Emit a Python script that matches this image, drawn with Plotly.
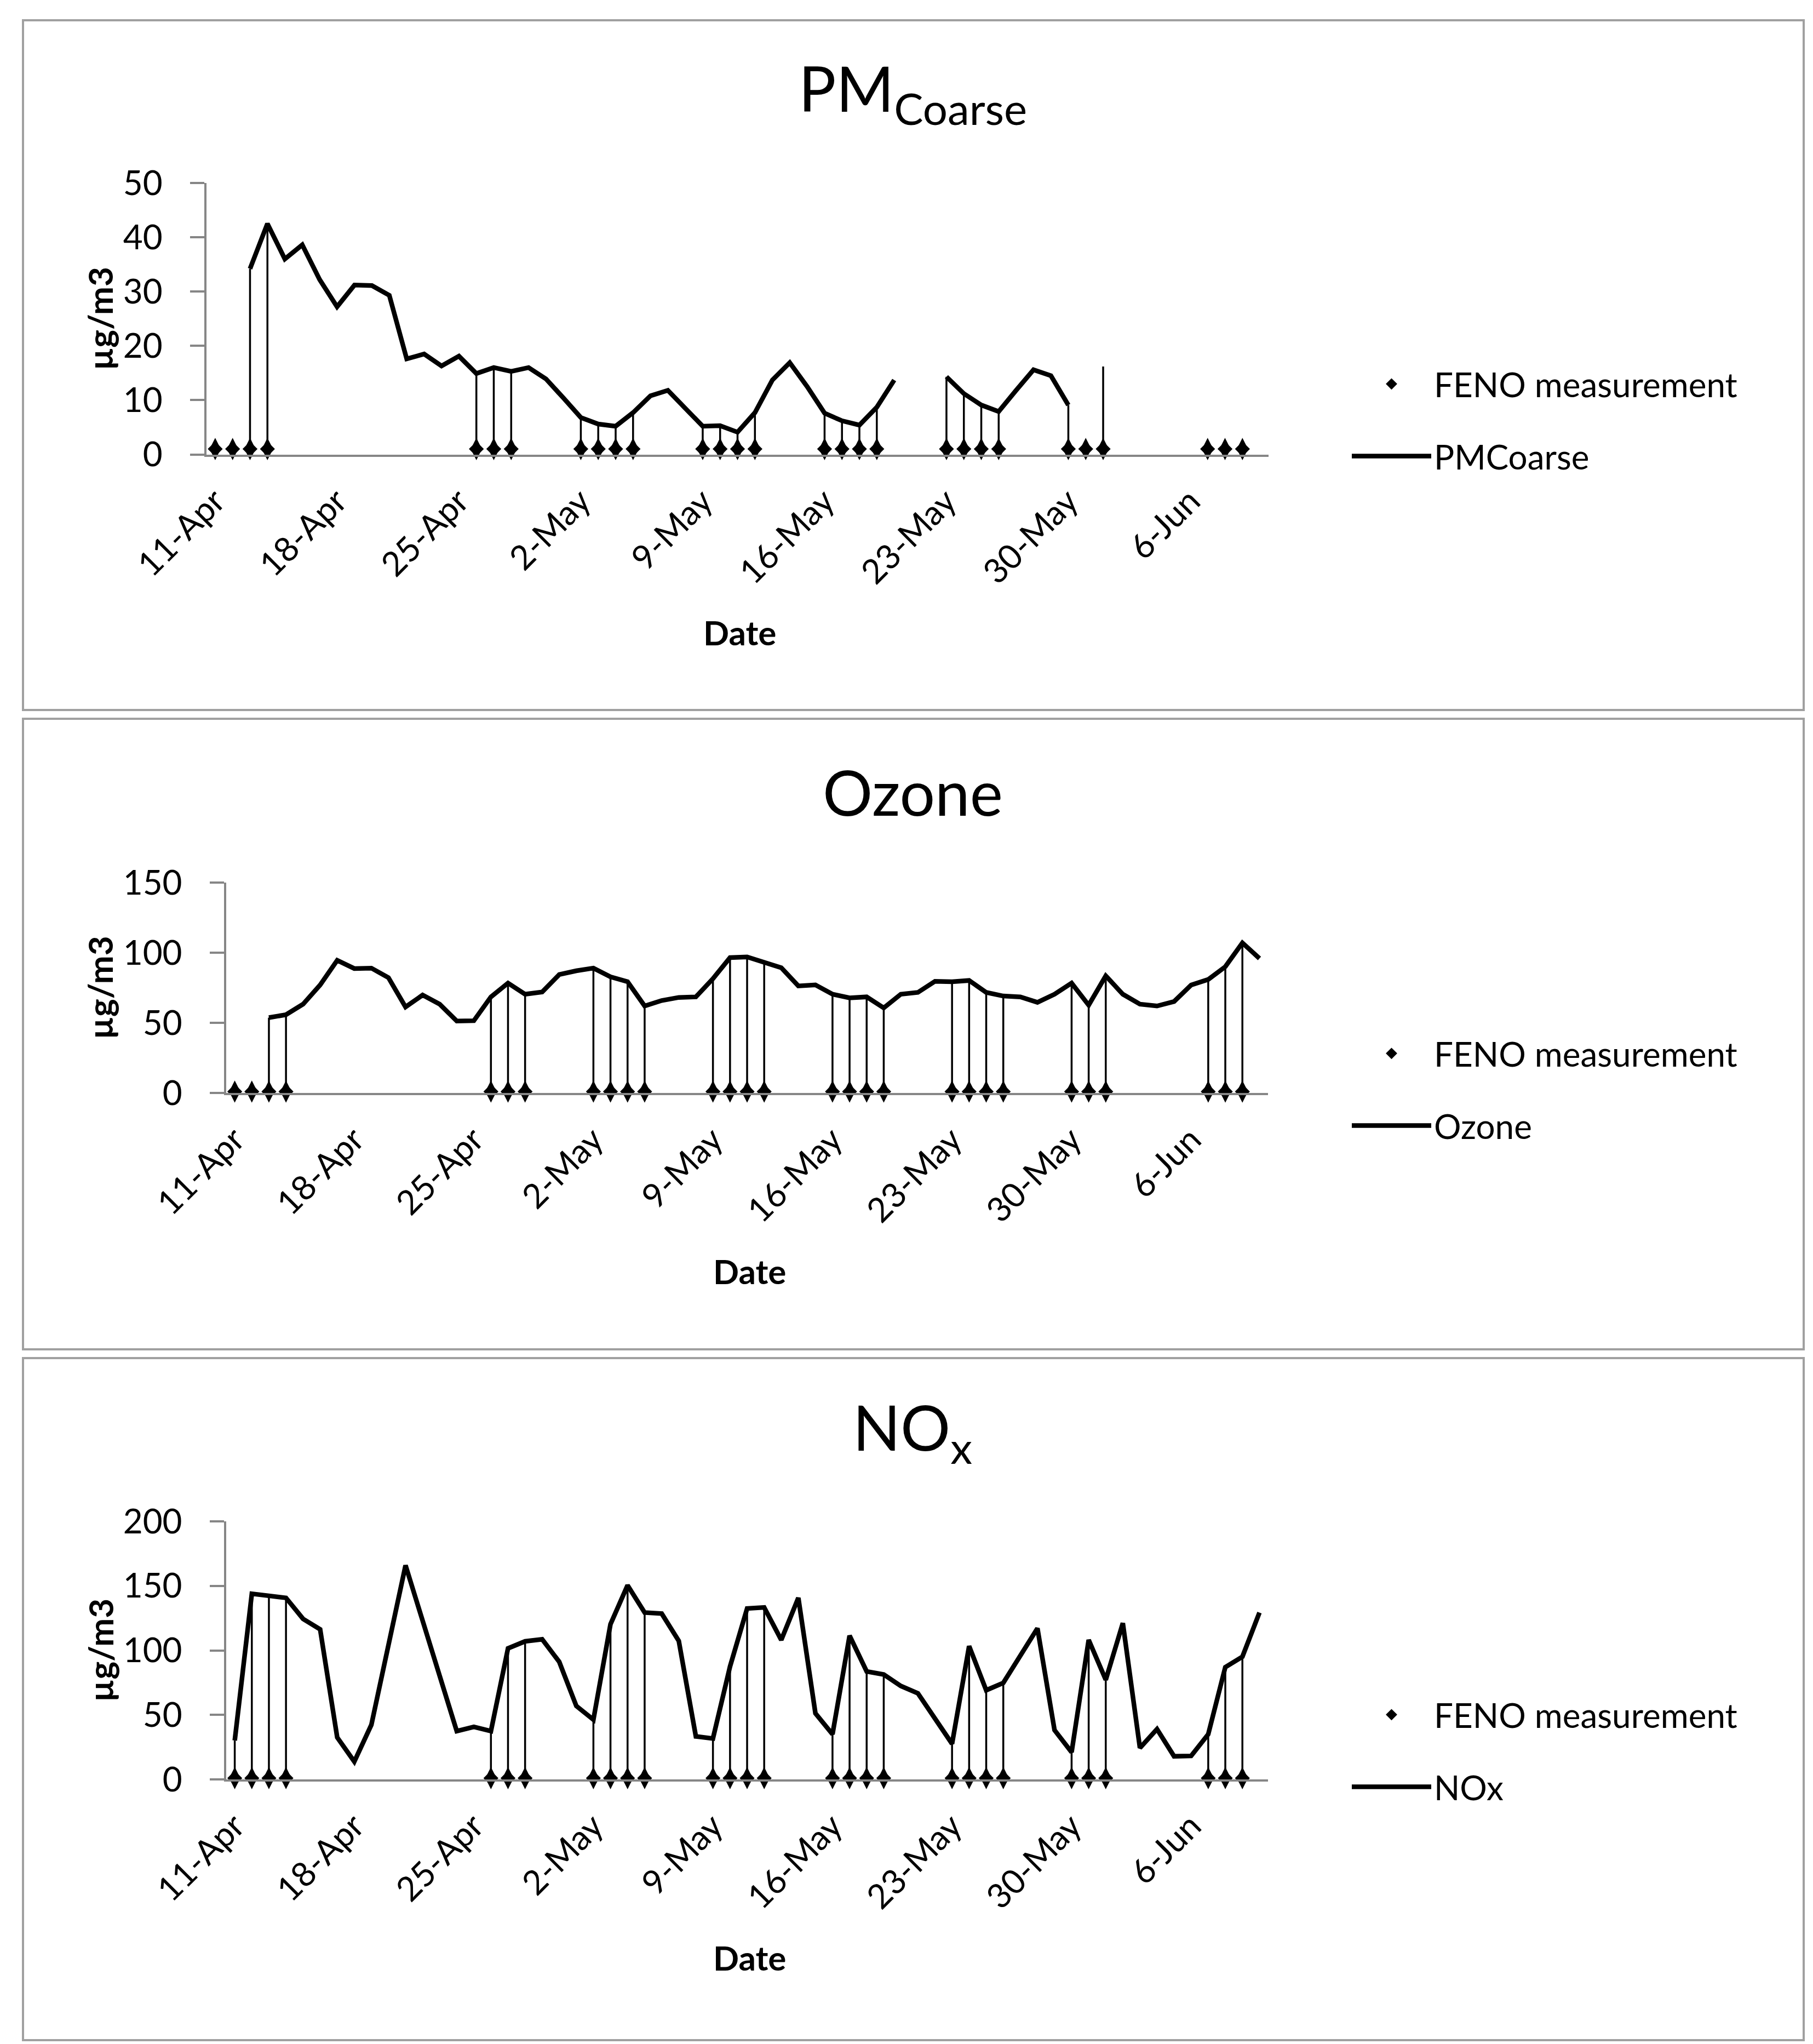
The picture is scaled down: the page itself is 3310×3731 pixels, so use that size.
import plotly.graph_objects as go
import pandas as pd

W, H = 3310, 3731
FONT = "Lato, Carlito, Calibri, sans-serif"

# ---- data -------------------------------------------------------------
dates = [f"{d.day}-{d.strftime('%b')}" for d in pd.date_range("2013-04-11", "2013-06-10")]
tick_labels = ["11-Apr", "18-Apr", "25-Apr", "2-May", "9-May", "16-May", "23-May", "30-May", "6-Jun"]

feno_days = [0, 1, 2, 3, 15, 16, 17, 21, 22, 23, 24, 28, 29, 30, 31,
             35, 36, 37, 38, 42, 43, 44, 45, 49, 50, 51, 57, 58, 59]
feno_value = 1

pm_coarse = [None, None, 34.2, 42.5, 36.0, 38.6, 32.2, 27.2, 31.2, 31.1,
             29.3, 17.6, 18.5, 16.3, 18.1, 14.9, 16.0, 15.3, 16.0, 13.9,
             10.4, 6.8, 5.6, 5.2, 7.7, 10.8, 11.8, 8.5, 5.2, 5.3,
             4.1, 7.7, 13.7, 16.9, 12.5, 7.6, 6.2, 5.4, 8.7, 13.7,
             None, None, 14.3, 11.2, 9.1, 7.9, 11.8, 15.6, 14.5, 9.1,
             None, 16.2, None, None, None, None, None, None, None, None, None]

ozone = [None, None, 53.7, 55.8, 63.3, 77.0, 94.6, 88.7, 89.0, 82.2,
         61.3, 69.8, 63.3, 51.3, 51.5, 68.5, 78.3, 70.4, 72.0, 84.4,
         87.1, 89.0, 82.8, 79.3, 62.0, 65.9, 68.1, 68.5, 81.5, 96.5,
         97.0, 92.8, 89.3, 76.3, 77.0, 70.4, 67.8, 68.5, 60.6, 70.4,
         71.7, 79.6, 79.3, 80.2, 71.7, 69.1, 68.5, 64.6, 70.4, 78.3,
         62.6, 83.5, 70.4, 63.3, 62.0, 65.2, 77.0, 80.9, 90.0, 107.0, 95.9]

nox = [30.1, 143.9, 142.3, 140.7, 124.4, 116.3, 32.5, 13.8, 42.3, 103.0,
       165.9, 123.0, 80.0, 37.4, 40.7, 37.4, 101.6, 107.0, 108.6, 91.1,
       56.9, 46.3, 120.3, 150.4, 129.3, 128.5, 107.3, 33.3, 31.7, 87.5,
       132.5, 133.3, 108.1, 140.7, 51.2, 35.0, 111.4, 83.7, 81.3, 72.4,
       66.7, 47.2, 27.6, 103.3, 69.1, 74.8, 95.9, 117.1, 38.2, 21.1,
       108.1, 77.2, 121.1, 24.4, 39.0, 17.9, 18.2, 35.0, 87.0, 95.1, 129.3]

# ---- panel geometry (pixels) -------------------------------------------
panels = [
    dict(name="PMCoarse", title="PM<sub>Coarse</sub>", values=pm_coarse, ymax=50, dtick=10,
         box=(34, 29, 3285, 1288), px=(369, 2308), py=(326, 821.5), title_y=160, legend_y=759),
    dict(name="Ozone", title="Ozone", values=ozone, ymax=150, dtick=50,
         box=(34, 1304, 3285, 2455), px=(405, 2307), py=(1603, 1987), title_y=1436, legend_y=1981),
    dict(name="NOx", title="NO<sub>x</sub>", values=nox, ymax=200, dtick=50,
         box=(34, 2471, 3285, 3716), px=(405, 2307), py=(2769, 3240), title_y=2604, legend_y=3188),
]

AXIS_GRAY = "#868686"
fig = go.Figure()
layout = dict(width=W, height=H, margin=dict(l=0, r=0, t=0, b=0, autoexpand=False),
              paper_bgcolor="white", plot_bgcolor="white", showlegend=True,
              font=dict(family=FONT, color="black"))
shapes, annotations = [], []


def fx(p):
    return p / W


def fy(p):
    return 1 - p / H


for i, pn in enumerate(panels):
    n = "" if i == 0 else str(i + 1)
    xa, ya = "x" + n, "y" + n
    lg = "legend" + n
    vals = pn["values"]
    feno_x = [dates[d] for d in feno_days]
    feno_y = [feno_value] * len(feno_days)

    dx, dy = [], []
    for d in feno_days:
        if vals[d] is not None:
            dx += [dates[d], dates[d], None]
            dy += [0, vals[d], None]
    fig.add_trace(go.Scatter(x=dx, y=dy, mode="lines", xaxis=xa, yaxis=ya,
                             line=dict(color="black", width=3.5), showlegend=False,
                             hoverinfo="skip", cliponaxis=False))

    # FENO diamonds: wide body + tall body overlaid give an Excel-like diamond
    fig.add_trace(go.Scatter(
        x=feno_x, y=feno_y, mode="markers", name="FENO measurement", xaxis=xa, yaxis=ya,
        legend=lg, legendgroup=f"feno{i}", cliponaxis=False,
        marker=dict(symbol="diamond", size=21, color="black", line=dict(width=0))))
    fig.add_trace(go.Scatter(
        x=feno_x, y=feno_y, mode="markers", name="FENO measurement", xaxis=xa, yaxis=ya,
        legendgroup=f"feno{i}", showlegend=False, cliponaxis=False, hoverinfo="skip",
        marker=dict(symbol="diamond-tall", size=29, color="black", line=dict(width=0))))

    fig.add_trace(go.Scatter(x=dates, y=vals, mode="lines", name=pn["name"],
                             xaxis=xa, yaxis=ya, legend=lg, legendgroup=f"ser{i}",
                             connectgaps=False, cliponaxis=False,
                             line=dict(color="black", width=8.5)))

    layout["xaxis" + n] = dict(
        domain=[fx(pn["px"][0]), fx(pn["px"][1])], anchor=ya, type="category",
        categoryorder="array", categoryarray=dates, range=[-0.5, 60.5],
        tickmode="array", tickvals=tick_labels, ticktext=tick_labels, tickangle=-45,
        ticks="", showline=True, linecolor=AXIS_GRAY, linewidth=4, showgrid=False,
        zeroline=False, tickfont=dict(family=FONT, size=62, color="black"),
        ticklabelstandoff=20, automargin=False, fixedrange=True)
    layout["yaxis" + n] = dict(
        domain=[fy(pn["py"][1]), fy(pn["py"][0])], anchor=xa, range=[0, pn["ymax"]],
        dtick=pn["dtick"], tick0=0, ticks="outside", ticklen=26, tickwidth=4,
        tickcolor=AXIS_GRAY, showline=True, linecolor=AXIS_GRAY, linewidth=4,
        showgrid=False, zeroline=False, tickfont=dict(family=FONT, size=62, color="black"),
        ticklabelstandoff=38, automargin=False, fixedrange=True)

    layout[lg] = dict(x=fx(2455), y=fy(pn["legend_y"]), xanchor="left", yanchor="middle",
                      font=dict(family=FONT, size=62, color="black"), itemwidth=145,
                      traceorder="grouped", tracegroupgap=48, bgcolor="rgba(0,0,0,0)",
                      borderwidth=0)

    x0, y0, x1, y1 = pn["box"]
    shapes.append(dict(type="rect", xref="paper", yref="paper", x0=fx(x0), x1=fx(x1),
                       y0=fy(y1), y1=fy(y0), line=dict(color="#a0a0a0", width=4),
                       layer="below"))

    annotations.append(dict(text=pn["title"], xref="paper", yref="paper", x=fx(1658),
                            y=fy(pn["title_y"]), xanchor="center", yanchor="middle",
                            showarrow=False, font=dict(family=FONT, size=114, color="black")))
    cx = (pn["px"][0] + pn["px"][1]) / 2 + 4
    annotations.append(dict(text="<b>Date</b>", xref="paper", yref="paper", x=fx(cx),
                            y=fy(pn["py"][1] + 325), xanchor="center", yanchor="middle",
                            showarrow=False, font=dict(family=FONT, size=62, color="black")))
    cy = (pn["py"][0] + pn["py"][1]) / 2
    annotations.append(dict(text="<b>µg/m3</b>", xref="paper", yref="paper", x=fx(174),
                            y=fy(cy), xanchor="center", yanchor="middle", textangle=-90,
                            showarrow=False, font=dict(family=FONT, size=62, color="black")))

layout["shapes"] = shapes
layout["annotations"] = annotations
fig.update_layout(**layout)
fig.write_html("out.html")
